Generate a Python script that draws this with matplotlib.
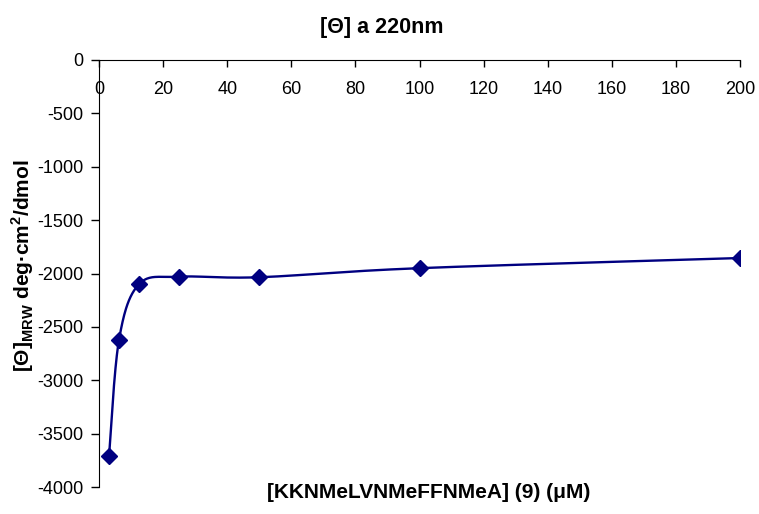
import numpy as np
import matplotlib
matplotlib.use('Agg')
import matplotlib.pyplot as plt

plt.rcParams['font.family'] = ['Liberation Sans', 'DejaVu Sans']
plt.rcParams['axes.unicode_minus'] = False

# data
conc = [3.125, 6.25, 12.5, 25, 50, 100, 200]
theta = [-3710, -2620, -2100, -2030, -2035, -1950, -1855]
xticks = [0, 20, 40, 60, 80, 100, 120, 140, 160, 180, 200]
yticks = [0, -500, -1000, -1500, -2000, -2500, -3000, -3500, -4000]


def excel_smooth(x, y, n=40):
    # bezier smoothing like excel's "smoothed line"
    x = np.asarray(x, float)
    y = np.asarray(y, float)
    px = np.concatenate([[x[0]], x, [x[-1]]])
    py = np.concatenate([[y[0]], y, [y[-1]]])
    xs, ys = [], []
    t = np.linspace(0, 1, n)
    for i in range(1, len(px) - 2):
        p0 = np.array([px[i], py[i]])
        p3 = np.array([px[i + 1], py[i + 1]])
        c1 = p0 + (np.array([px[i + 1], py[i + 1]]) - np.array([px[i - 1], py[i - 1]])) / 6
        c2 = p3 - (np.array([px[i + 2], py[i + 2]]) - np.array([px[i], py[i]])) / 6
        b = ((1 - t) ** 3)[:, None] * p0 + (3 * (1 - t) ** 2 * t)[:, None] * c1 \
            + (3 * (1 - t) * t ** 2)[:, None] * c2 + (t ** 3)[:, None] * p3
        xs.extend(b[:, 0])
        ys.extend(b[:, 1])
    return xs, ys


fig = plt.figure(figsize=(7.59, 5.14), dpi=100)
ax = fig.add_axes([99 / 759, 1 - 487 / 514, 641 / 759, 427 / 514])

sx, sy = excel_smooth(conc, theta)
ax.plot(sx, sy, color='#000080', lw=1.7)
ax.plot(conc, theta, 'D', color='#000080', ms=8, ls='none')

ax.set_xlim(0, 200)
ax.set_ylim(-4000, 0)
ax.set_xticks(xticks)
ax.set_yticks(yticks)
ax.spines['right'].set_visible(False)
ax.spines['top'].set_visible(False)
ax.spines['bottom'].set_position(('axes', 1.0))
ax.tick_params(axis='both', labelsize=13, width=1, color='black')
ax.tick_params(axis='x', length=5, pad=10)
ax.tick_params(axis='y', length=6, pad=5)

fig.text(382 / 759, 1 - 28 / 514, '[Θ] a 220nm', ha='center', va='center',
         fontsize=15.5, fontweight='bold')
fig.text(429 / 759, 1 - 493 / 514, '[KKNMeLVNMeFFNMeA] (9) (μM)', ha='center', va='center',
         fontsize=15, fontweight='bold')
fig.text(23 / 759, 1 - 266 / 514,
         r'[Θ]$_{\mathregular{MRW}}$ deg·cm$^{\mathregular{2}}$/dmol',
         rotation=90, ha='center', va='center', fontsize=15, fontweight='bold')

fig.savefig('out.png', dpi=100)
